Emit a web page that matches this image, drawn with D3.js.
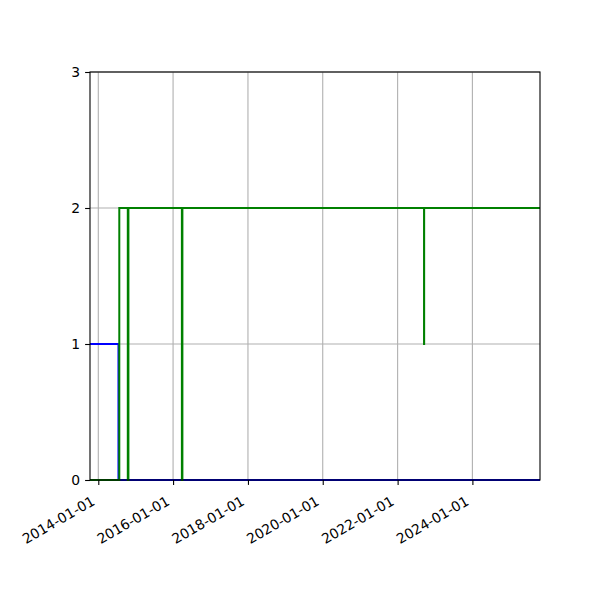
<!DOCTYPE html>
<html>
<head>
<meta charset="utf-8">
<script src="https://cdn.jsdelivr.net/npm/d3@7"></script>
<style>
  body { margin: 0; background: #fff; }
  svg { font-family: "DejaVu Sans", sans-serif; }
</style>
</head>
<body>
<div id="chart"></div>
<script>
const width = 600;
const height = 600;
const margin = { top: 72, right: 60, bottom: 120, left: 90 };

// x range of the axes
const xStart = "2013-10-12";
const xEnd = "2025-10-22";

// blue series (step after)
const blueDates = ["2013-10-12", "2014-07-17", "2025-10-22"];
const blueValues = [1, 0, 0];

// green series (step after)
const greenDates = [
  "2013-10-12", "2014-07-25", "2014-10-16", "2014-10-22",
  "2016-03-27", "2016-04-01", "2022-09-16", "2022-09-17", "2025-10-22"
];
const greenValues = [0, 2, 0, 2, 0, 2, 1, 2, 2];

const xTicks = ["2014-01-01", "2016-01-01", "2018-01-01", "2020-01-01", "2022-01-01", "2024-01-01"];
const yTicks = [0, 1, 2, 3];

const parse = d3.timeParse("%Y-%m-%d");
const fmt = d3.timeFormat("%Y-%m-%d");

const x = d3.scaleTime()
  .domain([parse(xStart), parse(xEnd)])
  .range([margin.left, width - margin.right]);

const y = d3.scaleLinear()
  .domain([0, 3])
  .range([height - margin.bottom, margin.top]);

const svg = d3.select("#chart")
  .append("svg")
  .attr("width", width)
  .attr("height", height);

const plot = svg.append("g");

// grid
plot.append("g")
  .selectAll("line")
  .data(xTicks.map(parse))
  .join("line")
  .attr("x1", (d) => x(d))
  .attr("x2", (d) => x(d))
  .attr("y1", y(0))
  .attr("y2", y(3))
  .attr("stroke", "#b0b0b0")
  .attr("stroke-width", 1.1);

plot.append("g")
  .selectAll("line")
  .data(yTicks)
  .join("line")
  .attr("x1", margin.left)
  .attr("x2", width - margin.right)
  .attr("y1", (d) => y(d))
  .attr("y2", (d) => y(d))
  .attr("stroke", "#b0b0b0")
  .attr("stroke-width", 1.1);

// lines
const line = d3.line()
  .x((d) => x(d.date))
  .y((d) => y(d.value))
  .curve(d3.curveStepAfter);

const blue = blueDates.map((d, i) => ({ date: parse(d), value: blueValues[i] }));
const green = greenDates.map((d, i) => ({ date: parse(d), value: greenValues[i] }));

svg.append("clipPath").attr("id", "clip")
  .append("rect")
  .attr("x", margin.left)
  .attr("y", margin.top - 2)
  .attr("width", width - margin.left - margin.right)
  .attr("height", height - margin.top - margin.bottom + 4);

plot.append("path")
  .datum(blue)
  .attr("d", line)
  .attr("fill", "none")
  .attr("stroke", "#0000ff")
  .attr("stroke-width", 2)
  .attr("clip-path", "url(#clip)");

plot.append("path")
  .datum(green)
  .attr("d", line)
  .attr("fill", "none")
  .attr("stroke", "#008000")
  .attr("stroke-width", 2)
  .attr("clip-path", "url(#clip)");

// axes
const xAxis = d3.axisBottom(x)
  .tickValues(xTicks.map(parse))
  .tickFormat(fmt)
  .tickSize(4.9)
  .tickSizeOuter(0);

const gx = svg.append("g")
  .attr("transform", `translate(0, ${height - margin.bottom})`)
  .call(xAxis);

gx.select(".domain").remove();
gx.selectAll(".tick line").attr("stroke", "#000").attr("stroke-width", 1.1);
gx.selectAll(".tick text")
  .attr("y", 0)
  .attr("dy", 0)
  .attr("text-anchor", "end")
  .attr("transform", "translate(-3, 24) rotate(-30)")
  .style("font-size", "13.9px")
  .style("font-family", "DejaVu Sans")
  .attr("fill", "#000");

const yAxis = d3.axisLeft(y)
  .tickValues(yTicks)
  .tickFormat(d3.format("d"))
  .tickSize(4.9)
  .tickPadding(4.9)
  .tickSizeOuter(0);

const gy = svg.append("g")
  .attr("transform", `translate(${margin.left}, 0)`)
  .call(yAxis);

gy.select(".domain").remove();
gy.selectAll(".tick line").attr("stroke", "#000").attr("stroke-width", 1.1);
gy.selectAll(".tick text")
  .style("font-size", "13.9px")
  .style("font-family", "DejaVu Sans")
  .attr("fill", "#000");

// spines
svg.append("rect")
  .attr("x", margin.left)
  .attr("y", margin.top)
  .attr("width", width - margin.left - margin.right)
  .attr("height", height - margin.top - margin.bottom)
  .attr("fill", "none")
  .attr("stroke", "#000")
  .attr("stroke-width", 1.1);
</script>
</body>
</html>
